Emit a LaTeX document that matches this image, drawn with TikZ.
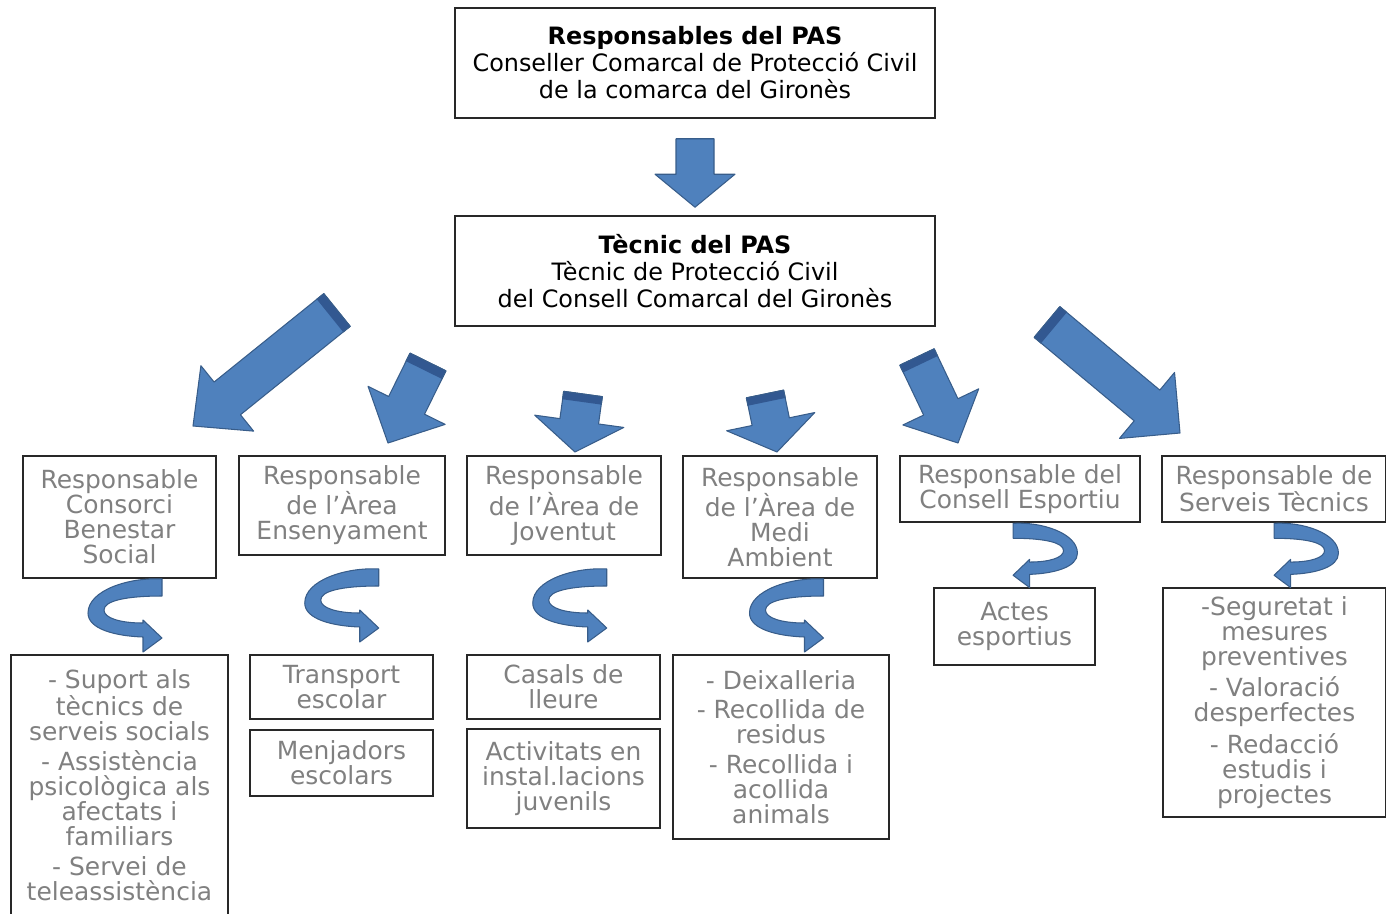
\documentclass[tikz,border=0pt]{standalone}
\usepackage{fontspec}
\setmainfont{DejaVu Sans}
\usepackage{tikz}
\usetikzlibrary{calc}
\definecolor{arrblue}{RGB}{79,129,189}
\definecolor{arrdark}{RGB}{56,93,138}
\definecolor{arrband}{RGB}{50,88,145}
\definecolor{txtgray}{RGB}{128,128,128}
\definecolor{boxline}{RGB}{40,40,40}

% block arrow: tail, tip, half shaft, half head, head length, band (all in px)
\newcommand\blockarrow[6]{%
  \coordinate (ah) at ($(#2)!#5*0.02cm!(#1)$);
  \coordinate (ab) at ($(#1)!#6*0.02cm!(#2)$);
  \filldraw[bigarr]
    ($(#1)!#3*0.02cm!90:(#2)$) -- ($(ah)!#3*0.02cm!90:(#2)$)
    -- ($(ah)!#4*0.02cm!90:(#2)$) -- (#2)
    -- ($(ah)!#4*0.02cm!-90:(#2)$) -- ($(ah)!#3*0.02cm!-90:(#2)$)
    -- ($(#1)!#3*0.02cm!-90:(#2)$) -- cycle;
  \filldraw[bigarr, fill=arrband]
    ($(ab)!#3*0.02cm!90:(#2)$) -- ($(#1)!#3*0.02cm!90:(#2)$)
    -- ($(#1)!#3*0.02cm!-90:(#2)$) -- ($(ab)!#3*0.02cm!-90:(#2)$);
}

\tikzset{uturn/.pic={
  \filldraw[bigarr]
    (37,-36) .. controls (5,-38) and (-37,-25) .. (-37,-2)
    .. controls (-37,14) and (-10,21) .. (18,22) -- (18,37) -- (37,23)
    -- (18,5) -- (18,8) .. controls (-5,8) and (-21,3) .. (-21,-5)
    .. controls (-21,-14) and (0,-19) .. (37,-19) -- cycle;
}}

\begin{document}
\begin{tikzpicture}[x=0.02cm,y=-0.02cm,
  bigarr/.style={fill=arrblue, draw=arrdark, line width=0.6pt, line join=round},
  head/.style={draw=boxline, line width=0.9pt, inner sep=0pt, align=center,
    font=\fontsize{13.6pt}{15.4pt}\selectfont, minimum width=9.6cm, minimum height=2.2cm},
  resp/.style={draw=boxline, line width=0.9pt, inner sep=0pt, align=center,
    text=txtgray, font=\fontsize{14.2pt}{14.2pt}\selectfont}]
  \useasboundingbox (0,0) rectangle (1386,913);

  \node[head] (tp) at (695,63) {\textbf{Responsables del PAS}\\
    Conseller Comarcal de Protecció Civil\\de la comarca del Gironès};
  \node[head] (tec) at (695,271) {\textbf{Tècnic del PAS}\\
    Tècnic de Protecció Civil\\del Consell Comarcal del Gironès};

  % responsables
  \node[resp, minimum width=3.86cm, minimum height=2.44cm] (rcs) at (119.5,517)
    {Responsable\\Consorci\\Benestar\\Social};
  \node[resp, minimum width=4.12cm, minimum height=1.98cm] (ren) at (342,505.5)
    {Responsable\\de l’Àrea\\Ensenyament};
  \node[resp, minimum width=3.88cm, minimum height=1.98cm] (rjo) at (564,505.5)
    {Responsable\\de l’Àrea de\\Joventut};
  \node[resp, minimum width=3.88cm, minimum height=2.44cm] (rma) at (780,517)
    {Responsable\\de l’Àrea de\\Medi\\Ambient};
  \node[resp, minimum width=4.8cm, minimum height=1.32cm] (rce) at (1020,489)
    {Responsable del\\Consell Esportiu};
  \node[resp, minimum width=4.48cm, minimum height=1.32cm] (rst) at (1274,489)
    {Responsable de\\Serveis Tècnics};

  % tasques
  \node[resp, minimum width=4.34cm, minimum height=5.2cm] (sup) at (119.5,785)
    {- Suport als\\tècnics de\\serveis socials\\[2.8pt]- Assistència\\psicològica als\\
     afectats i\\familiars\\[2.8pt]- Servei de\\teleassistència};
  \node[resp, minimum width=3.66cm, minimum height=1.28cm] (tra) at (341.5,687)
    {Transport\\escolar};
  \node[resp, minimum width=3.66cm, minimum height=1.32cm] (men) at (341.5,763)
    {Menjadors\\escolars};
  \node[resp, minimum width=3.86cm, minimum height=1.28cm] (cas) at (563.5,687)
    {Casals de\\lleure};
  \node[resp, minimum width=3.86cm, minimum height=1.98cm] (act) at (563.5,778.5)
    {Activitats en\\instal.lacions\\juvenils};
  \node[resp, minimum width=4.32cm, minimum height=3.68cm] (dei) at (781,747)
    {- Deixalleria\\[2.8pt]- Recollida de\\residus\\[2.8pt]- Recollida i\\acollida\\animals};
  \node[resp, minimum width=3.22cm, minimum height=1.54cm] (esp) at (1014.5,626.5)
    {Actes\\esportius};
  \node[resp, minimum width=4.46cm, minimum height=4.58cm] (seg) at (1274.5,702.5)
    {-Seguretat i\\mesures\\preventives\\[2.8pt]- Valoració\\desperfectes\\[2.8pt]
     - Redacció\\estudis i\\projectes};

  % fletxes
  \coordinate (a0s) at ($(tp.south)+(0,20)$);
  \coordinate (a0e) at ($(tec.north)+(0,-8)$);
  \blockarrow{a0s}{a0e}{19}{40}{33}{0}
  \coordinate (a1s) at (337,310);  \coordinate (a1e) at (193,426);
  \coordinate (a2s) at (428,362);  \coordinate (a2e) at (388,443);
  \coordinate (a3s) at (583,394);  \coordinate (a3e) at (575,452);
  \coordinate (a4s) at (765,394);  \coordinate (a4e) at (777,452);
  \coordinate (a5s) at (917,357);  \coordinate (a5e) at (958,443);
  \coordinate (a6s) at (1047,322); \coordinate (a6e) at (1180,433);
  \blockarrow{a1s}{a1e}{21}{42}{44}{9}
  \blockarrow{a2s}{a2e}{20}{43}{42}{9}
  \blockarrow{a3s}{a3e}{19.5}{45}{31}{8}
  \blockarrow{a4s}{a4e}{19}{45}{31}{8}
  \blockarrow{a5s}{a5e}{19}{42}{40}{8}
  \blockarrow{a6s}{a6e}{20}{43}{43}{9}

  \path ($(rcs.south)!.5!(sup.north)+(5.5,-1.5)$) pic {uturn};
  \path ($(ren.south)!.5!(tra.north)$) pic {uturn};
  \path ($(rjo.south)!.5!(cas.north)+(6,0)$) pic {uturn};
  \path ($(rma.south)!.5!(dei.north)+(6,-1.5)$) pic {uturn};
  \path ($(rce.south)!.5!(esp.north)+(28,0)$) pic[xscale=-0.87, yscale=0.88] {uturn};
  \path ($(rst.south)!.5!(seg.north)+(32,0)$) pic[xscale=-0.87, yscale=0.88] {uturn};
\end{tikzpicture}
\end{document}
